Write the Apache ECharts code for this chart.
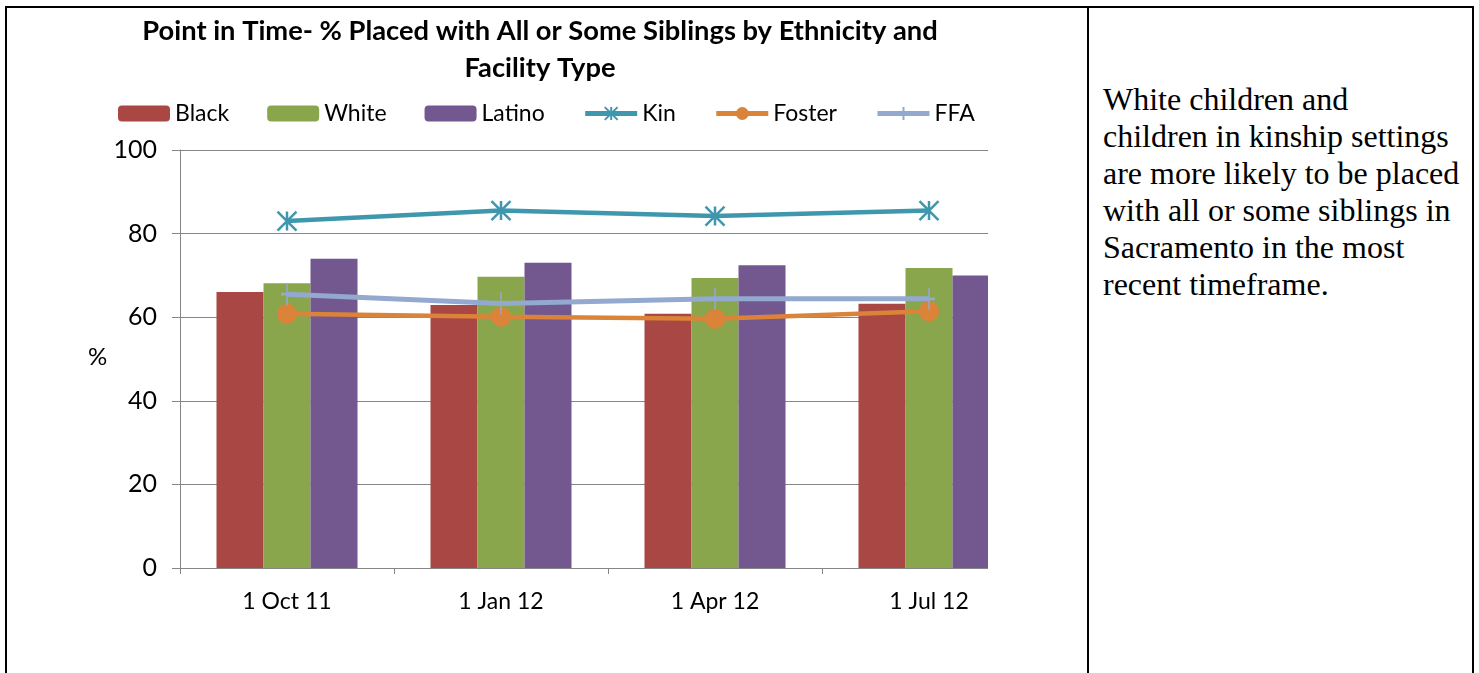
<!DOCTYPE html>
<html>
<head>
<meta charset="utf-8">
<script src="https://cdn.jsdelivr.net/npm/echarts@6/dist/echarts.min.js"></script>
<style>
  html, body { margin:0; padding:0; background:#fff; width:1479px; height:673px; overflow:hidden; }
  .ln { position:absolute; background:#000; }
  #clip { position:absolute; left:0; top:0; width:988px; height:673px; overflow:hidden; }
  #chart { position:absolute; left:0; top:0; width:1100px; height:673px; }
  #note { position:absolute; left:1103px; top:81px; width:368px; font-family:"Liberation Serif","Times New Roman",serif; font-size:32px; line-height:37px; color:#000; white-space:nowrap; }
</style>
</head>
<body>
<div id="clip"><div id="chart"></div></div>
<div class="ln" style="left:5px;top:6px;width:1469px;height:2px;"></div>
<div class="ln" style="left:5px;top:6px;width:2px;height:667px;"></div>
<div class="ln" style="left:1087px;top:6px;width:2px;height:667px;"></div>
<div class="ln" style="left:1472px;top:6px;width:2px;height:667px;"></div>
<div id="note">White children and<br>children in kinship settings<br>are more likely to be placed<br>with all or some siblings in<br>Sacramento in the most<br>recent timeframe.</div>
<script>
const categories = ['1 Oct 11', '1 Jan 12', '1 Apr 12', '1 Jul 12'];
const blackVals  = [66.0, 62.9, 60.8, 63.2];
const whiteVals  = [68.1, 69.7, 69.4, 71.8];
const latinoVals = [74.0, 73.0, 72.4, 70.0];
const kinVals    = [83.0, 85.5, 84.2, 85.5];
const fosterVals = [60.8, 60.1, 59.6, 61.4];
const ffaVals    = [65.5, 63.3, 64.4, 64.4];
const yTicks = [0, 20, 40, 60, 80, 100];

const FONT = 'Lato';
const chart = echarts.init(document.getElementById('chart'), null, {renderer:'canvas'});
const asterisk = 'path://M0,0 L20,20 M20,0 L0,20 M10,0 L10,20';
const plus = 'path://M6,0 L6,22 M0,11 L12,11';
chart.setOption({
  animation:false,
  textStyle:{fontFamily:FONT},
  title:{
    text:'Point in Time- % Placed with All or Some Siblings by Ethnicity and\nFacility Type',
    left:540, top:13, textAlign:'center', padding:0,
    textStyle:{fontFamily:FONT, fontWeight:'bold', fontSize:27.3, lineHeight:37, color:'#000'}
  },
  legend:{
    left:118, top:102, padding:0, itemWidth:52, itemHeight:16, itemGap:38,
    textStyle:{fontFamily:FONT, fontSize:23, color:'#000'},
    lineStyle:{width:5},
    data:['Black','White','Latino','Kin','Foster','FFA']
  },
  grid:{left:180, top:150, width:856, height:418, containLabel:false},
  xAxis:{
    type:'category', data:categories, boundaryGap:true,
    axisLine:{lineStyle:{color:'#868686', width:1}},
    axisTick:{show:true, length:6, alignWithLabel:false, lineStyle:{color:'#868686'}},
    axisLabel:{fontFamily:FONT, fontSize:23, color:'#000', margin:22}
  },
  yAxis:{
    type:'value', min:yTicks[0], max:yTicks[yTicks.length-1], interval:20,
    axisLine:{show:true, lineStyle:{color:'#868686', width:1}},
    axisTick:{show:true, inside:false, length:8, lineStyle:{color:'#868686'}},
    axisLabel:{fontFamily:FONT, fontSize:25, color:'#000', margin:23},
    splitLine:{show:true, lineStyle:{color:'#868686', width:1}}
  },
  graphic:[{type:'text', left:88, top:345, style:{text:'%', fontFamily:FONT, fontSize:24, fill:'#000'}}],
  series:[
    {name:'Black', type:'bar', data:blackVals, barWidth:47, barGap:'0%', itemStyle:{color:'#A84743'}},
    {name:'White', type:'bar', data:whiteVals, barWidth:47, barGap:'0%', itemStyle:{color:'#8AA64C'}},
    {name:'Latino', type:'bar', data:latinoVals, barWidth:47, barGap:'0%', itemStyle:{color:'#72588E'}},
    {name:'Kin', type:'line', data:kinVals, symbol:asterisk, symbolSize:19,
      lineStyle:{color:'#3F97AE', width:4.5}, itemStyle:{color:'#3F97AE', borderColor:'#3F97AE', borderWidth:2.5}},
    {name:'Foster', type:'line', data:fosterVals, symbol:'circle', symbolSize:20,
      lineStyle:{color:'#DC833A', width:4.5}, itemStyle:{color:'#DC833A', borderColor:'#DC833A', borderWidth:0}},
    {name:'FFA', type:'line', data:ffaVals, symbol:plus, symbolSize:[12,22],
      lineStyle:{color:'#93A9CF', width:5}, itemStyle:{color:'#93A9CF', borderColor:'#93A9CF', borderWidth:2}}
  ]
});
</script>
</body>
</html>
